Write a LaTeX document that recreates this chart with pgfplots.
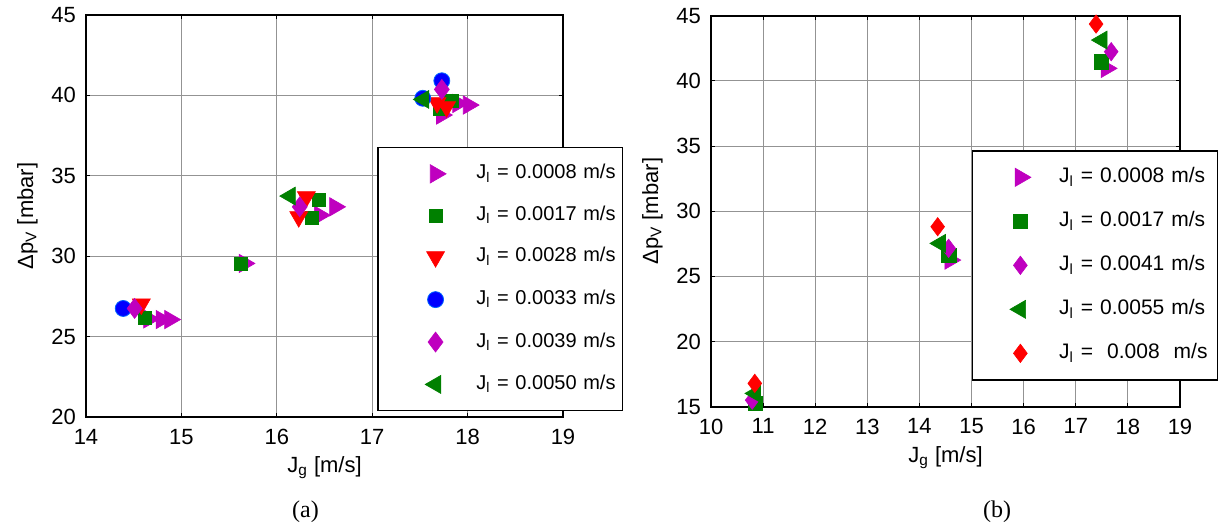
\documentclass[border=0pt]{standalone}
\usepackage{pgfplots}
\pgfplotsset{compat=1.18}
\usepackage{fontspec}
\setmainfont{Liberation Sans}
\newfontfamily\capfont{Liberation Serif}
\definecolor{mmag}{RGB}{191,0,191}
\definecolor{mgreen}{RGB}{0,128,0}
\definecolor{mred}{RGB}{255,0,0}
\definecolor{mblue}{RGB}{0,0,255}

\pgfplotsset{
  matstyle/.style={
    scale only axis,
    axis line style={line width=0.9pt},
    grid=major,
    major grid style={line width=0.5pt, draw=gray!85},
    tick align=inside,
    major tick length=2pt,
    tick style={black, line width=0.5pt},
    tick label style={font=\fontsize{11}{13}\selectfont},
    xticklabel style={yshift=-2.5pt},
    yticklabel style={xshift=-1.5pt},
    label style={font=\fontsize{11}{13}\selectfont},
    xlabel style={yshift=1pt},
    /pgf/number format/assume math mode=true,
    xlabel={J\textsubscript{g} [m/s]},
    ylabel={Δp\textsubscript{V} [mbar]},
    legend cell align=left,
  },
  mkR/.style={only marks, color=mmag, mark=triangle*, mark size=5.3pt, mark options={rotate=-90, line width=0.3pt}},
  mkSq/.style={only marks, color=mgreen, mark=square*, mark size=3.3pt, mark options={line width=0.3pt}},
  mkD/.style={only marks, color=mred, mark=triangle*, mark size=5.2pt, mark options={rotate=180, line width=0.3pt}},
  mkC/.style={only marks, color=mblue, mark=*, mark size=4pt, mark options={draw=blue!60!cyan, line width=0.4pt}},
  mkDi/.style={only marks, color=mmag, mark=diamond*, mark size=5pt, mark options={line width=0.3pt}},
  mkL/.style={only marks, color=mgreen, mark=triangle*, mark size=5.2pt, mark options={rotate=90, line width=0.3pt}},
  mkRD/.style={only marks, color=mred, mark=diamond*, mark size=4.6pt, mark options={line width=0.3pt}},
}

\begin{document}
\begin{tikzpicture}
\useasboundingbox (-43pt,-56pt) rectangle (566pt,208.5pt);

% (a)
\begin{axis}[matstyle,
  width=238.5pt, height=201pt,
  xmin=14, xmax=19, ymin=20, ymax=45,
  xtick={14,15,...,19}, ytick={20,25,...,45},
  legend style={at={(0.61,0.672)}, anchor=north west, draw=black, line width=0.8pt,
    fill=white, inner xsep=0pt, inner ysep=8.5pt, row sep=11.7pt, column sep=0pt,
    nodes={inner xsep=0pt, inner ysep=0pt, text height=7pt, text depth=2pt,
      text width=73pt, font=\fontsize{10}{12}\selectfont}},
  legend image code/.code={\path (0pt,0pt) (48.5pt,0pt); \draw[#1] plot coordinates {(28.5pt,0pt)};},
]
\addplot[mkR] coordinates {(14.66,26.10) (14.79,26.06) (14.88,26.06) (15.66,29.55)
  (16.61,33.07) (16.45,32.55) (18.01,39.40) (17.73,38.78) (17.90,39.50)};
\addplot[mkSq] coordinates {(14.62,26.19) (15.62,29.55) (16.44,33.49) (16.37,32.41)
  (17.83,39.67) (17.71,39.19)};
\addplot[mkD] coordinates {(14.58,27.02) (16.31,33.69) (16.23,32.45) (17.68,39.54) (17.78,39.29)};
\addplot[mkC] coordinates {(14.39,26.75) (17.53,39.82) (17.73,40.91)};
\addplot[mkDi] coordinates {(14.51,26.75) (16.24,33.07) (17.73,40.37)};
\addplot[mkL] coordinates {(16.14,33.74) (17.54,39.75)};
\legend{J\textsubscript{l} = 0.0008 m/s, J\textsubscript{l} = 0.0017 m/s, J\textsubscript{l} = 0.0028 m/s,
  J\textsubscript{l} = 0.0033 m/s, J\textsubscript{l} = 0.0039 m/s, J\textsubscript{l} = 0.0050 m/s}
\end{axis}

% (b)
\begin{axis}[matstyle,
  at={(312.5pt,5.15pt)}, anchor=south west,
  width=234.5pt, height=195.5pt,
  xmin=10, xmax=19, ymin=15, ymax=45,
  xtick={10,11,...,19}, ytick={15,20,...,45},
  legend style={at={(0.556,0.6565)}, anchor=north west, draw=black, line width=0.8pt,
    fill=white, inner xsep=0pt, inner ysep=8.5pt, row sep=12.5pt, column sep=0pt,
    nodes={inner xsep=0pt, inner ysep=0pt, text height=7.5pt, text depth=2pt,
      text width=79.5pt, font=\fontsize{10.5}{12}\selectfont}},
  legend image code/.code={\path (0pt,0pt) (42.5pt,0pt); \draw[#1] plot coordinates {(23.5pt,0pt)};},
]
\addplot[mkR] coordinates {(11.01,14.95) (14.59,26.25) (17.59,40.96)};
\addplot[mkSq, mark size=3.6pt] coordinates {(10.85,15.25) (14.56,26.63) (17.49,41.47)};
\addplot[mkDi, mark size=4.6pt] coordinates {(10.79,15.50) (14.56,27.15) (17.68,42.24)};
\addplot[mkL] coordinates {(10.85,16.02) (14.40,27.53) (17.50,43.13)};
\addplot[mkRD] coordinates {(10.84,16.79) (14.35,28.81) (17.39,44.36)};
\legend{J\textsubscript{l} = 0.0008 m/s, J\textsubscript{l} = 0.0017 m/s, J\textsubscript{l} = 0.0041 m/s,
  J\textsubscript{l} = 0.0055 m/s, J\textsubscript{l} =\ \ 0.008\ \ m/s}
\end{axis}

\node at (109.75pt,-47.5pt) {\capfont\fontsize{12}{14}\selectfont (a)};
\node at (455.5pt,-47.5pt) {\capfont\fontsize{12}{14}\selectfont (b)};
\end{tikzpicture}
\end{document}
